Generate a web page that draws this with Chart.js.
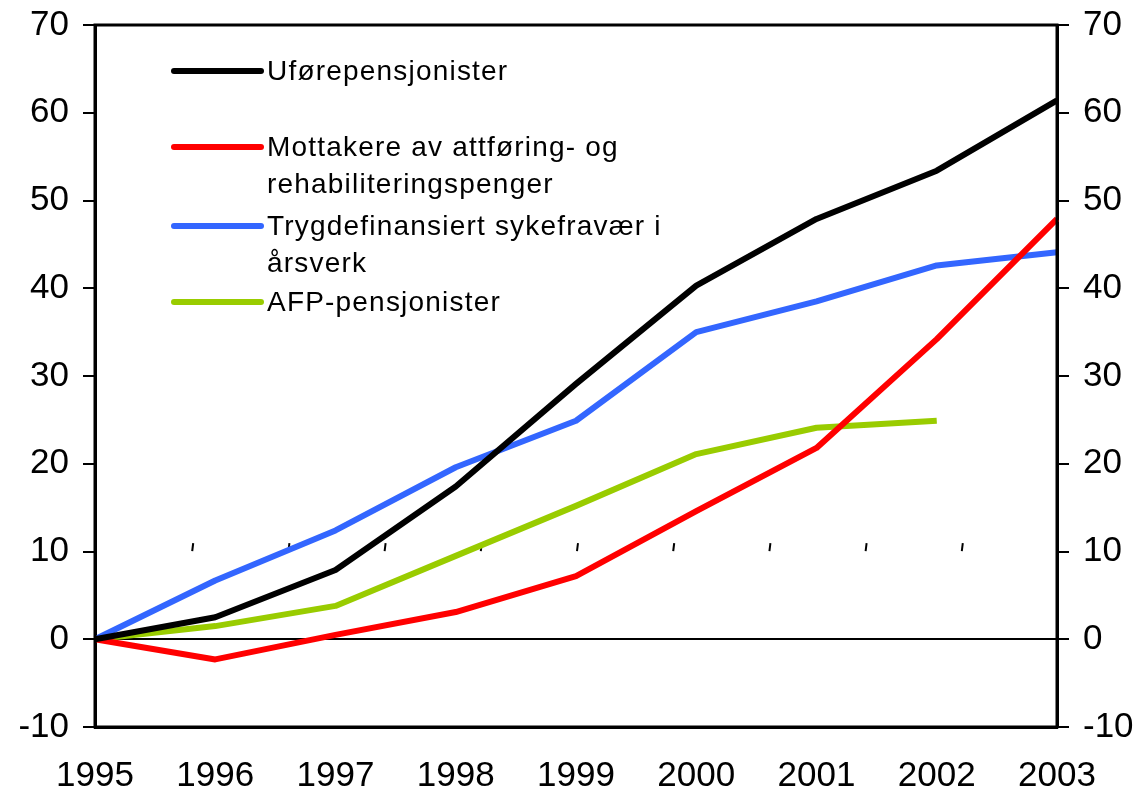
<!DOCTYPE html>
<html>
<head>
<meta charset="utf-8">
<script src="https://cdn.jsdelivr.net/npm/chart.js@4"></script>
<style>
  html, body { margin: 0; padding: 0; background: #fff; }
  #wrap { width: 1141px; height: 796px; }
</style>
</head>
<body>
<div id="wrap"><canvas id="chart"></canvas></div>
<script>
// kategorier (år)
const years = ['1995', '1996', '1997', '1998', '1999', '2000', '2001', '2002', '2003'];

// seriene, indeks 1995 = 0
const ufore = [0, 2.5, 7.9, 17.4, 29.1, 40.3, 47.9, 53.4, 61.4];
const attforing = [0, -2.3, 0.5, 3.1, 7.2, 14.6, 21.8, 34.2, 47.9];
const sykefravar = [0, 6.7, 12.4, 19.6, 24.9, 35.0, 38.5, 42.6, 44.1];
const afp = [0, 1.5, 3.8, 9.5, 15.2, 21.1, 24.1, 24.9, null];

// tekst i forklaringen (en linje per element)
const legendUfore = ['Uførepensjonister'];
const legendAttforing = ['Mottakere av attføring- og', 'rehabiliteringspenger'];
const legendSyke = ['Trygdefinansiert sykefravær i', 'årsverk'];
const legendAfp = ['AFP-pensjonister'];

// y-akse
const yMin = -10, yMax = 70, yStep = 10;

const colors = ['#000000', '#ff0000', '#3366ff', '#99cc00'];

// ramme rundt plottet
const framePlugin = {
    id: 'frame',
    afterDatasetsDraw(chart) {
        const { ctx, chartArea: a } = chart;
        ctx.save();
        ctx.strokeStyle = '#000';
        ctx.lineWidth = 3;
        ctx.strokeRect(a.left, a.top, a.right - a.left, a.bottom - a.top);
        ctx.restore();
    }
};

// små streker midt i plottet (finnes i originalen)
const strayPlugin = {
    id: 'stray',
    beforeDatasetsDraw(chart) {
        const { ctx, chartArea: a, scales } = chart;
        const y = scales.y.getPixelForValue(10.5);
        ctx.save();
        ctx.strokeStyle = '#000';
        ctx.lineWidth = 2;
        for (let i = 1; i <= 9; i++) {
            const x = a.left + i * (a.right - a.left) / 10;
            ctx.beginPath();
            ctx.moveTo(x + 2, y - 4);
            ctx.lineTo(x + 1, y + 4);
            ctx.stroke();
        }
        ctx.restore();
    }
};

// egen forklaring inne i plottet
const legendPlugin = {
    id: 'customLegend',
    afterDraw(chart) {
        const { ctx } = chart;
        const items = [
            { lines: legendUfore, color: colors[0], y: 71 },
            { lines: legendAttforing, color: colors[1], y: 147 },
            { lines: legendSyke, color: colors[2], y: 226 },
            { lines: legendAfp, color: colors[3], y: 302 }
        ];
        ctx.save();
        ctx.font = '28px "Liberation Sans", Arial, sans-serif';
        ctx.letterSpacing = '1.2px';
        ctx.textBaseline = 'middle';
        ctx.fillStyle = '#000';
        items.forEach(it => {
            ctx.strokeStyle = it.color;
            ctx.lineWidth = 6;
            ctx.lineCap = 'round';
            ctx.beginPath();
            ctx.moveTo(174, it.y);
            ctx.lineTo(261, it.y);
            ctx.stroke();
            it.lines.forEach((t, i) => ctx.fillText(t, 267, it.y + 1 + i * 37));
        });
        ctx.restore();
    }
};

const tickFont = { family: '"Liberation Sans", Arial, sans-serif', size: 35 };

const yAxisBase = {
    type: 'linear',
    min: yMin,
    max: yMax,
    ticks: { stepSize: yStep, color: '#000', font: tickFont, padding: 14 },
    border: { display: true, color: '#000', width: 3 },
};

const ctx = document.getElementById('chart').getContext('2d');
new Chart(ctx, {
    type: 'line',
    data: {
        labels: years,
        datasets: [
            { label: legendUfore.join(' '), data: ufore, borderColor: colors[0] },
            { label: legendAttforing.join(' '), data: attforing, borderColor: colors[1] },
            { label: legendSyke.join(' '), data: sykefravar, borderColor: colors[2] },
            { label: legendAfp.join(' '), data: afp, borderColor: colors[3] }
        ].map(d => Object.assign(d, {
            borderWidth: 6,
            pointRadius: 0,
            tension: 0,
            fill: false,
            spanGaps: false,
            borderJoinStyle: 'round'
        }))
    },
    options: {
        responsive: true,
        maintainAspectRatio: false,
        animation: false,
        layout: { padding: { top: 25, left: 0, right: 0, bottom: 0 } },
        plugins: {
            legend: { display: false },
            tooltip: { enabled: false }
        },
        scales: {
            x: {
                type: 'category',
                offset: false,
                grid: { display: false, drawTicks: false },
                border: { display: true, color: '#000', width: 3 },
                ticks: { color: '#000', font: tickFont, padding: 28, maxRotation: 0, autoSkip: false },
                afterFit(s) { s.height = 69; s.paddingLeft = 0; s.paddingRight = 0; }
            },
            y: Object.assign({}, yAxisBase, {
                position: 'left',
                grid: {
                    drawOnChartArea: true,
                    color: c => (c.tick && c.tick.value === 0 ? '#000' : 'rgba(0,0,0,0)'),
                    tickColor: '#000',
                    lineWidth: 2,
                    tickLength: 12
                },
                afterFit(s) { s.width = 95; s.paddingTop = 0; s.paddingBottom = 0; }
            }),
            y2: Object.assign({}, yAxisBase, {
                position: 'right',
                grid: { drawOnChartArea: false, tickColor: '#000', lineWidth: 2, tickLength: 12 },
                afterFit(s) { s.width = 84; s.paddingTop = 0; s.paddingBottom = 0; }
            })
        }
    },
    plugins: [strayPlugin, framePlugin, legendPlugin]
});
</script>
</body>
</html>
